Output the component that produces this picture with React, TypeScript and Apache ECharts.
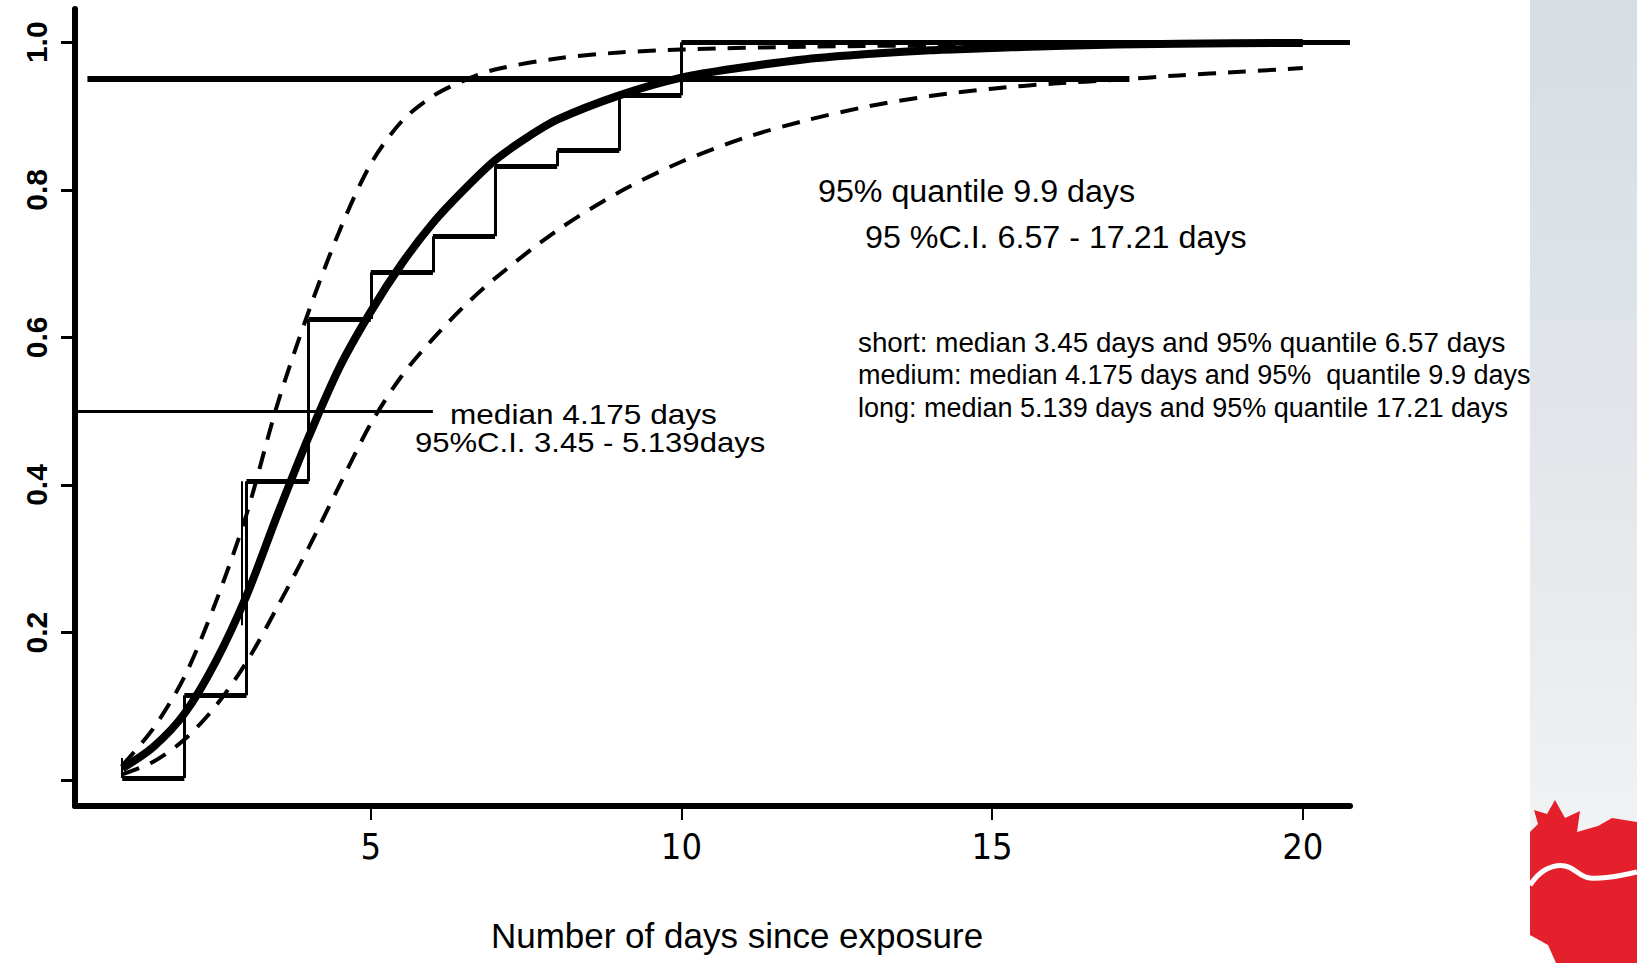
import React, { useEffect, useRef } from "react";
import * as echarts from "echarts";

// Fitted cumulative distribution (thick solid curve)
const fitDays = [1, 1.5, 2, 2.5, 3, 3.5, 4, 4.5, 5, 5.5, 6, 6.5, 7, 7.5, 8, 9, 10, 11, 12, 13, 14, 15, 16, 18, 20];
const fitProb = [0.016, 0.045, 0.09, 0.16, 0.25, 0.36, 0.465, 0.56, 0.635, 0.7, 0.755, 0.8, 0.84, 0.87, 0.895, 0.928, 0.952, 0.966, 0.977, 0.984, 0.989, 0.992, 0.995, 0.998, 0.999];

// Upper 95% confidence band (dashed, left)
const upperDays = [1, 1.5, 2, 2.5, 3, 3.5, 4, 4.5, 5, 5.5, 6, 6.5, 7, 8, 9, 10, 12, 15, 20];
const upperProb = [0.02, 0.07, 0.14, 0.24, 0.36, 0.51, 0.635, 0.745, 0.835, 0.893, 0.927, 0.948, 0.963, 0.978, 0.986, 0.99, 0.994, 0.996, 0.997];

// Lower 95% confidence band (dashed, right)
const lowerDays = [1, 1.5, 2, 2.5, 3, 3.5, 4, 4.5, 5, 5.5, 6, 6.5, 7, 8, 9, 10, 11, 12, 13, 14, 15, 16, 17, 18, 19, 20];
const lowerProb = [0.008, 0.025, 0.055, 0.1, 0.16, 0.235, 0.315, 0.4, 0.483, 0.548, 0.598, 0.642, 0.68, 0.745, 0.797, 0.838, 0.87, 0.894, 0.913, 0.927, 0.937, 0.944, 0.949, 0.955, 0.96, 0.965];

// Nonparametric (step) estimate
const stepDays = [1, 2, 3, 4, 5, 6, 7, 8, 9, 10];
const stepProb = [0.003, 0.115, 0.405, 0.625, 0.688, 0.737, 0.832, 0.853, 0.928, 1.0];
const stepEnd = 20.76;

// Extra interval box edges
const boxDays = [1, 2.92];
const boxLow = [0.003, 0.21];
const boxHigh = [0.03, 0.405];

// Reference lines (median and 95% quantile)
const refProb = [0.5, 0.95];
const refFrom = [0.24, 0.44];
const refTo = [6, 17.21];

const xTicks = [5, 10, 15, 20];
const yTicks = [0, 0.2, 0.4, 0.6, 0.8, 1.0];
const yLabels = [0.2, 0.4, 0.6, 0.8, 1.0];

const xTitle = "Number of days since exposure";
const medianNote = ["median 4.175 days", "95%C.I. 3.45 - 5.139days"];
const quantileNote = ["95% quantile 9.9 days", "95 %C.I. 6.57 - 17.21 days"];
const summaryNotes = [
  "short: median 3.45 days and 95% quantile 6.57 days",
  "medium: median 4.175 days and 95%  quantile 9.9 days",
  "long: median 5.139 days and 95% quantile 17.21 days",
];

const pairs = (xs: number[], ys: number[]) => xs.map((x, i) => [x, ys[i]]);

function buildOption() {
  const horiz = stepDays.map((d, i) => ({
    coords: [
      [d, stepProb[i]],
      [i + 1 < stepDays.length ? stepDays[i + 1] : stepEnd, stepProb[i]],
    ],
  }));
  const vert = stepDays.slice(1).map((d, i) => ({
    coords: [
      [d, stepProb[i]],
      [d, stepProb[i + 1]],
    ],
  }));
  const boxes = boxDays.map((d, i) => ({
    coords: [
      [d, boxLow[i]],
      [d, boxHigh[i]],
    ],
  }));
  const refs = refProb.map((p, i) => ({
    coords: [
      [refFrom[i], p],
      [refTo[i], p],
    ],
    lineStyle: { width: i === 0 ? 3 : 6 },
  }));

  const bitmapFont = '"Liberation Sans", Arial, sans-serif';
  const narrowFont = '"Liberation Sans Narrow", "DejaVu Sans Condensed", "Liberation Sans", sans-serif';

  const txt = (text: string, x: number, y: number, fontSize: number, family: string, align = "left", scaleX = 1) => ({
    type: "text",
    x,
    y,
    scaleX,
    z: 10,
    style: {
      text,
      fill: "#000",
      fontSize,
      fontFamily: family,
      align,
      textAlign: align,
      verticalAlign: "middle",
      textVerticalAlign: "middle",
    },
  });

  const stripGradient = new echarts.graphic.LinearGradient(0, 0, 0, 1, [
    { offset: 0, color: "#d6dde3" },
    { offset: 0.45, color: "#e2e6ea" },
    { offset: 0.8, color: "#eef0f2" },
    { offset: 1, color: "#f6f7f8" },
  ]);

  const lineCommon = { showSymbol: false, smooth: 0.3, silent: true };

  return {
    animation: false,
    backgroundColor: "#ffffff",
    grid: { left: 75, top: 9, width: 1275, height: 797, containLabel: false },
    xAxis: {
      type: "value",
      min: 0.24,
      max: 20.76,
      axisLine: { show: true, onZero: false, lineStyle: { color: "#000", width: 6 } },
      axisTick: { show: true, length: 14, customValues: xTicks, lineStyle: { color: "#000", width: 2 } },
      axisLabel: { show: true, customValues: xTicks, fontSize: 36, fontFamily: narrowFont, color: "#000", margin: 22 },
      splitLine: { show: false },
    },
    yAxis: {
      type: "value",
      min: -0.035,
      max: 1.045,
      axisLine: { show: true, onZero: false, lineStyle: { color: "#000", width: 6 } },
      axisTick: { show: true, length: 14, customValues: yTicks, lineStyle: { color: "#000", width: 3 } },
      axisLabel: {
        show: true,
        customValues: yLabels,
        rotate: 90,
        fontSize: 30,
        fontWeight: "bold",
        fontFamily: bitmapFont,
        color: "#000",
        margin: 24,
        formatter: (v: number) => v.toFixed(1),
      },
      splitLine: { show: false },
    },
    series: [
      {
        type: "lines",
        coordinateSystem: "cartesian2d",
        polyline: false,
        silent: true,
        lineStyle: { color: "#000", width: 3, opacity: 1 },
        data: refs,
        z: 3,
      },
      {
        type: "line",
        ...lineCommon,
        data: pairs(upperDays, upperProb),
        lineStyle: { color: "#000", width: 4, type: [18, 12] },
        z: 4,
      },
      {
        type: "line",
        ...lineCommon,
        data: pairs(lowerDays, lowerProb),
        lineStyle: { color: "#000", width: 4, type: [18, 12] },
        z: 4,
      },
      {
        type: "lines",
        coordinateSystem: "cartesian2d",
        polyline: false,
        silent: true,
        lineStyle: { color: "#000", width: 5, opacity: 1 },
        data: horiz,
        z: 5,
      },
      {
        type: "lines",
        coordinateSystem: "cartesian2d",
        polyline: false,
        silent: true,
        lineStyle: { color: "#000", width: 3, opacity: 1 },
        data: vert,
        z: 5,
      },
      {
        type: "lines",
        coordinateSystem: "cartesian2d",
        polyline: false,
        silent: true,
        lineStyle: { color: "#000", width: 2, opacity: 1 },
        data: boxes,
        z: 5,
      },
      {
        type: "line",
        ...lineCommon,
        data: pairs(fitDays, fitProb),
        lineStyle: { color: "#000", width: 8 },
        z: 6,
      },
    ],
    graphic: [
      { type: "rect", z: 0, shape: { x: 1530, y: 0, width: 107, height: 963 }, style: { fill: stripGradient } },
      {
        type: "polygon",
        z: 1,
        shape: {
          points: [
            [1530, 832], [1538, 824], [1534, 810], [1547, 814], [1555, 800], [1565, 818],
            [1580, 811], [1577, 832], [1598, 826], [1612, 818], [1637, 822], [1637, 963], [1530, 963],
          ],
        },
        style: { fill: "#e3202b" },
      },
      {
        type: "polyline",
        z: 2,
        shape: { points: [[1530, 885], [1545, 870], [1565, 866], [1590, 878], [1637, 872]], smooth: 0.4 },
        style: { stroke: "#ffffff", lineWidth: 5, fill: null },
      },
      {
        type: "polygon",
        z: 2,
        shape: { points: [[1530, 935], [1548, 945], [1556, 963], [1530, 963]] },
        style: { fill: "#ffffff" },
      },
      txt(medianNote[0], 450, 414, 27, bitmapFont, "left", 1.17),
      txt(medianNote[1], 415, 443, 27, bitmapFont, "left", 1.15),
      txt(quantileNote[0], 818, 191, 31, bitmapFont, "left", 1.04),
      txt(quantileNote[1], 865, 237, 31, bitmapFont, "left", 1.04),
      txt(summaryNotes[0], 858, 343, 27, bitmapFont, "left", 1.03),
      txt(summaryNotes[1], 858, 375, 27, bitmapFont),
      txt(summaryNotes[2], 858, 408, 27, bitmapFont),
      txt(xTitle, 737, 935, 35, bitmapFont, "center"),
    ],
  };
}

export default function App() {
  const ref = useRef<HTMLDivElement>(null);
  useEffect(() => {
    if (!ref.current) return;
    const chart = echarts.init(ref.current, undefined, { renderer: "svg" });
    chart.setOption(buildOption() as any);
    return () => chart.dispose();
  }, []);
  return (
    <div
      ref={ref}
      style={{ position: "absolute", left: 0, top: 0, width: 1637, height: 963, background: "#fff" }}
    />
  );
}
